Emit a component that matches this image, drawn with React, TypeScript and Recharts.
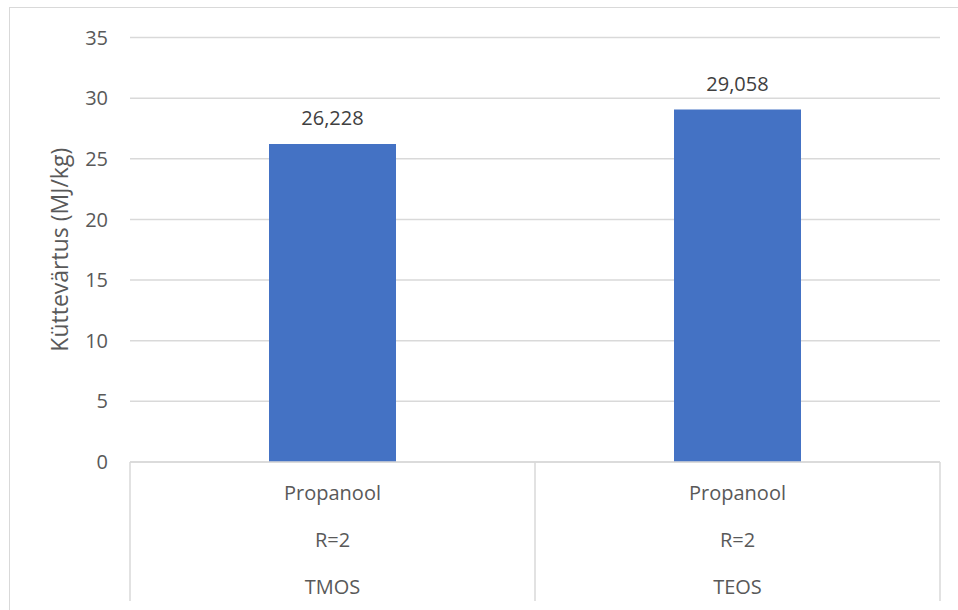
import React from "react";
import { BarChart, Bar, XAxis, YAxis, CartesianGrid, LabelList } from "recharts";

// Calorific value by silica precursor (propanol solvent, R=2)
const precursors = ["TMOS", "TEOS"];
const solvents = ["Propanool", "Propanool"];
const ratios = ["R=2", "R=2"];
const heatingValues = [26.228, 29.058];
const yTicks = [0, 5, 10, 15, 20, 25, 30, 35];

const data = precursors.map((p, i) => ({
  precursor: p,
  solvent: solvents[i],
  ratio: ratios[i],
  value: heatingValues[i],
}));

const FONT = "'Open Sans', 'Liberation Sans', sans-serif";
const GRID = "#d9d9d9";
const TEXT = "#595959";

// Three-row category label with Excel-style separators between groups
function MultiLevelTick(props: any) {
  const { x, y, payload, index } = props;
  const row = data[payload.index ?? index];
  const half = payload.offset ?? 202.5;
  const isLast = (payload.index ?? index) === data.length - 1;
  const depth = 139;
  return (
    <g>
      <line x1={x - half} y1={y} x2={x - half} y2={y + depth} stroke={GRID} strokeWidth={1.5} />
      {isLast && (
        <line x1={x + half} y1={y} x2={x + half} y2={y + depth} stroke={GRID} strokeWidth={1.5} />
      )}
      <text x={x} y={y + 30} textAnchor="middle" dominantBaseline="central" fill={TEXT} fontSize={20} fontFamily={FONT}>
        {row.solvent}
      </text>
      <text x={x} y={y + 77} textAnchor="middle" dominantBaseline="central" fill={TEXT} fontSize={20} fontFamily={FONT}>
        {row.ratio}
      </text>
      <text x={x} y={y + 124} textAnchor="middle" dominantBaseline="central" fill={TEXT} fontSize={20} fontFamily={FONT}>
        {row.precursor}
      </text>
    </g>
  );
}

export default function App() {
  return (
    <div style={{ position: "absolute", left: 0, top: 0, width: 958, height: 610, overflow: "hidden", background: "#fff" }}>
      <div
        style={{
          position: "absolute",
          left: 9,
          top: 7,
          width: 960,
          height: 640,
          border: "1.5px solid #d9d9d9",
        }}
      />
      <div style={{ position: "absolute", left: 0, top: 0 }}>
        <BarChart
          width={958}
          height={610}
          data={data}
          margin={{ top: 37.5, right: 18, bottom: 8, left: 70 }}
        >
          <CartesianGrid vertical={false} stroke={GRID} strokeWidth={1.5} />
          <XAxis
            dataKey="precursor"
            interval={0}
            height={140}
            tickSize={0}
            tickMargin={0}
            tickLine={false}
            axisLine={{ stroke: GRID, strokeWidth: 1.5 }}
            tick={<MultiLevelTick />}
          />
          <YAxis
            width={60}
            domain={[0, 35]}
            ticks={yTicks}
            interval={0}
            axisLine={false}
            tickLine={false}
            tickSize={0}
            tickMargin={22}
            tick={{ fill: TEXT, fontSize: 20, fontFamily: FONT }}
            label={{
              value: "Küttevärtus (MJ/kg)",
              angle: -90,
              position: "insideLeft",
              dx: -15,
              style: { textAnchor: "middle", fill: TEXT, fontSize: 23, fontFamily: FONT },
            }}
          />
          <Bar dataKey="value" fill="#4472c4" barSize={127} isAnimationActive={false}>
            <LabelList
              dataKey="value"
              position="top"
              offset={19}
              formatter={(v: any) => Number(v).toFixed(3).replace(".", ",")}
              style={{ fill: "#404040", fontSize: 20, fontFamily: FONT }}
            />
          </Bar>
        </BarChart>
      </div>
    </div>
  );
}
